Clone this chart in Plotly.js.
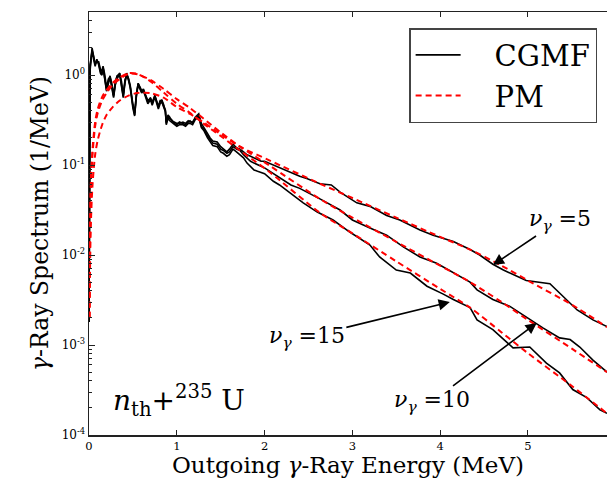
<!DOCTYPE html>
<html>
<head>
<meta charset="utf-8">
<script src="https://cdn.plot.ly/plotly-3.0.1.min.js"></script>
<style>html,body{margin:0;padding:0;background:#fff;}#chart{width:608px;height:478px;}</style>
</head>
<body>
<div id="chart"></div>
<script>
// ---- CGMF spectra (low-energy part shares the energy grid) ----
const cgmfLowE = [0.000,0.012,0.035,0.055,0.07,0.09,0.11,0.13,0.145,0.16,0.18,0.2,0.22,0.24,0.26,0.28,0.3,0.32,0.35,0.37,0.39,0.41,0.43,0.45,0.47,0.5,0.52,0.54,0.56,0.58,0.6,0.62,0.64,0.67,0.7,0.72,0.75,0.77,0.79,0.81,0.83,0.85,0.87,0.88,0.9,0.92,0.94,0.97,1.0,1.03,1.07,1.1,1.13,1.15,1.18,1.21,1.25,1.28,1.31,1.35,1.38,1.41,1.46,1.5,1.53,1.57,1.6,1.64,1.68,1.72,1.76,1.8,1.84,1.88,1.92,1.96];
const cgmf5Low = [0.0018,1.1,2.0,1.5,1.3,1.45,1.35,1.1,1.0,1.22,0.95,0.68,0.85,0.98,0.75,0.58,0.8,0.96,1.05,0.8,0.58,0.85,1.05,0.9,0.74,0.45,0.36,0.6,0.81,0.72,0.65,0.7,0.6,0.5,0.56,0.48,0.6,0.52,0.44,0.5,0.53,0.45,0.41,0.29,0.35,0.33,0.32,0.29,0.28,0.3,0.29,0.28,0.3,0.31,0.29,0.34,0.37,0.29,0.26,0.22,0.2,0.185,0.18,0.16,0.15,0.14,0.15,0.17,0.155,0.15,0.14,0.13,0.125,0.12,0.115,0.11];
const cgmf10Low = [0.0018,1.2,1.9,1.6,1.35,1.4,1.4,1.15,1.1,1.25,1.0,0.72,0.9,0.95,0.8,0.6,0.85,0.98,1.02,0.85,0.6,0.88,1.0,0.92,0.76,0.47,0.38,0.62,0.8,0.74,0.67,0.68,0.62,0.52,0.55,0.5,0.58,0.5,0.45,0.52,0.52,0.47,0.4,0.3,0.36,0.34,0.31,0.3,0.29,0.29,0.3,0.29,0.31,0.3,0.3,0.33,0.35,0.27,0.25,0.21,0.19,0.175,0.17,0.15,0.145,0.135,0.14,0.16,0.15,0.145,0.13,0.12,0.11,0.105,0.1,0.097];
const cgmf15Low = [0.0018,1.3,1.8,1.45,1.25,1.5,1.3,1.05,1.0,1.2,0.9,0.66,0.8,0.93,0.72,0.56,0.78,0.92,1.0,0.78,0.56,0.82,1.02,0.87,0.72,0.43,0.35,0.58,0.78,0.7,0.63,0.67,0.58,0.48,0.53,0.46,0.57,0.5,0.42,0.48,0.5,0.44,0.39,0.28,0.33,0.31,0.3,0.28,0.27,0.28,0.28,0.27,0.29,0.29,0.28,0.32,0.34,0.26,0.24,0.2,0.18,0.165,0.16,0.14,0.135,0.125,0.13,0.15,0.14,0.13,0.12,0.105,0.095,0.088,0.085,0.082];

const cgmf5HighE = [2.0,2.1,2.2,2.3,2.4,2.48,2.63,2.76,2.86,3.05,3.2,3.39,3.54,3.77,3.92,4.15,4.34,4.45,4.6,4.72,4.98,5.25,5.36,5.56,5.74,5.9];
const cgmf5High = [0.11,0.1,0.09,0.081,0.075,0.071,0.062,0.060,0.050,0.038,0.0347,0.0275,0.0245,0.019,0.0166,0.0141,0.0115,0.01,0.0079,0.0068,0.0052,0.0048,0.0038,0.00245,0.0019,0.0016];
const cgmf10HighE = [2.0,2.1,2.21,2.3,2.4,2.5,2.63,2.86,3.0,3.2,3.39,3.58,3.77,3.96,4.15,4.34,4.42,4.6,4.79,4.99,5.17,5.36,5.48,5.59,5.74,5.9];
const cgmf10High = [0.093,0.08,0.068,0.06,0.055,0.049,0.042,0.0316,0.0245,0.02,0.0166,0.0123,0.0095,0.0081,0.0063,0.005,0.0041,0.0032,0.0027,0.002,0.00155,0.0012,0.00115,0.00095,0.00068,0.0005];
const cgmf15HighE = [2.0,2.1,2.17,2.29,2.44,2.6,2.78,2.97,3.2,3.31,3.5,3.66,3.85,4.03,4.15,4.34,4.42,4.6,4.83,5.02,5.21,5.36,5.51,5.67,5.82,5.9];
const cgmf15High = [0.08,0.066,0.06,0.049,0.038,0.03,0.0245,0.018,0.0129,0.0095,0.0068,0.0063,0.0045,0.0037,0.0032,0.0026,0.0019,0.00148,0.00093,0.00095,0.00063,0.00049,0.00032,0.00026,0.00019,0.000174];

// ---- PM (model) spectra ----
const pmE = [0.005,0.02,0.04,0.07,0.1,0.15,0.2,0.27,0.35,0.45,0.55,0.7,0.85,1.0,1.15,1.3,1.5,1.72,2.06,2.63,3.0,3.5,4.0,4.34,4.7,5.0,5.5,5.9];
const pm5 = [0.002,0.02,0.06,0.13,0.19,0.28,0.36,0.44,0.52,0.59,0.63,0.63,0.56,0.44,0.37,0.3,0.22,0.16,0.112,0.062,0.043,0.026,0.0159,0.0115,0.0076,0.0052,0.0028,0.00158];
const pm10 = [0.002,0.05,0.13,0.27,0.38,0.52,0.63,0.78,0.9,1.03,1.02,0.88,0.7,0.54,0.43,0.33,0.23,0.16,0.098,0.042,0.026,0.014,0.0076,0.005,0.003,0.0019,0.00091,0.0005];
const pm15 = [0.002,0.06,0.15,0.3,0.42,0.57,0.68,0.82,0.94,1.05,1.03,0.85,0.64,0.48,0.38,0.29,0.21,0.145,0.083,0.0295,0.0174,0.0085,0.0042,0.0026,0.00138,0.00081,0.00035,0.000174];

// ---- axis ticks ----
const xTicks = [0,1,2,3,4,5];
const yTickVals = [1e-4,1e-3,1e-2,1e-1,1];
const yTickText = ['10<sup>-4</sup>','10<sup>-3</sup>','10<sup>-2</sup>','10<sup>-1</sup>','10<sup>0</sup>'];

const SERIF = '"DejaVu Serif", "Liberation Serif", serif';

function cgmfTrace(lowY, hiE, hiY, show){
  return {x: cgmfLowE.concat(hiE), y: lowY.concat(hiY), type:'scatter', mode:'lines',
    name:'\u2003CGMF', showlegend: show, legendgroup:'cgmf',
    line:{color:'#000000', width:1.6}};
}
function pmTrace(y, show){
  return {x: pmE, y: y, type:'scatter', mode:'lines', name:'\u2003PM', showlegend: show, legendgroup:'pm',
    line:{color:'#ff0000', width:2, dash:'6px,4px', shape:'spline', smoothing:0.8}};
}

const data = [
  cgmfTrace(cgmf5Low, cgmf5HighE, cgmf5High, true),
  cgmfTrace(cgmf10Low, cgmf10HighE, cgmf10High, false),
  cgmfTrace(cgmf15Low, cgmf15HighE, cgmf15High, false),
  pmTrace(pm5, true),
  pmTrace(pm10, false),
  pmTrace(pm15, false)
];

const labelFont = {family:SERIF, size:22, color:'#000'};
const arrowStyle = {showarrow:true, arrowhead:2, arrowsize:1.4, arrowwidth:1.6, arrowcolor:'#000', axref:'pixel', ayref:'pixel', xref:'x', yref:'y', font:labelFont};
const layout = {
  width:608, height:478,
  margin:{l:89, r:1, t:12, b:43, pad:0},
  paper_bgcolor:'#ffffff', plot_bgcolor:'#ffffff',
  font:{family:SERIF, color:'#000'},
  xaxis:{
    range:[0,5.9], tickvals:xTicks, ticks:'inside', ticklen:5, tickwidth:1, tickcolor:'#222',
    showline:true, linecolor:'#222', linewidth:1.5, mirror:'ticks', showgrid:false, zeroline:false,
    tickfont:{family:SERIF, size:11.5, color:'#000'},
    title:{text:'Outgoing <i>γ</i>-Ray Energy (MeV)', font:{family:SERIF, size:23, color:'#000'}, standoff:9}
  },
  yaxis:{
    type:'log', range:[-4,0.7], tickvals:yTickVals, ticktext:yTickText,
    ticks:'inside', ticklen:6, tickwidth:1, tickcolor:'#222',
    minor:{ticks:'inside', ticklen:3, dtick:'D1', tickcolor:'#222', showgrid:false},
    showline:true, linecolor:'#222', linewidth:1.5, showgrid:false, zeroline:false,
    tickfont:{family:SERIF, size:12, color:'#000'},
    title:{text:'<i>γ</i>-Ray Spectrum (1/MeV)', font:{family:SERIF, size:23.5, color:'#000'}, standoff:6}
  },
  legend:{x:0.618, y:0.962, xanchor:'left', yanchor:'top', bordercolor:'#444', borderwidth:1.5,
    bgcolor:'#ffffff', font:{family:SERIF, size:29, color:'#000'}, itemwidth:45, tracegroupgap:0},
  annotations:[
    Object.assign({x:4.60, y:Math.log10(0.00774), ax:67, ay:-45, text:'<i>ν</i><sub><i>γ</i></sub> =5'}, arrowStyle),
    Object.assign({x:4.11, y:Math.log10(0.0030), ax:-143, ay:35, text:'<i>ν</i><sub><i>γ</i></sub> =15'}, arrowStyle),
    Object.assign({x:5.10, y:Math.log10(0.00176), ax:-105, ay:79, text:'<i>ν</i><sub><i>γ</i></sub> =10'}, arrowStyle),
    {x:1.03, y:Math.log10(0.00024), xref:'x', yref:'y', text:'<i>n</i><sub>th</sub>+<sup>235</sup> U', showarrow:false, font:{family:SERIF, size:28, color:'#000'}}
  ]
};

Plotly.newPlot('chart', data, layout, {staticPlot:true, displayModeBar:false});
</script>
</body>
</html>
